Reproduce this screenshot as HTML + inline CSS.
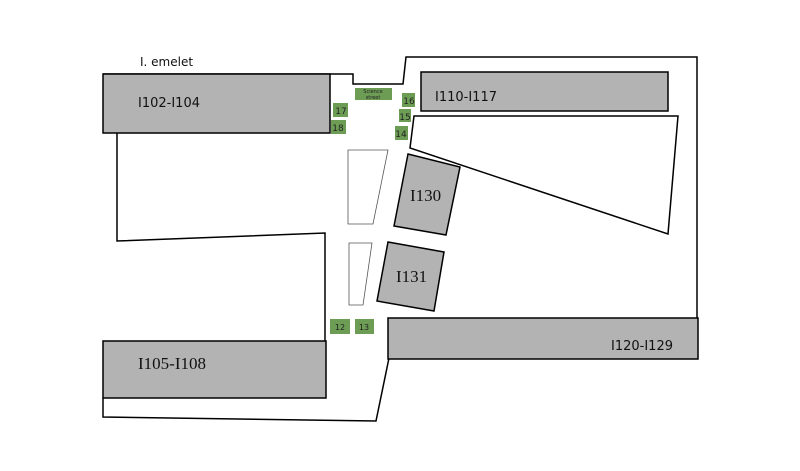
<!DOCTYPE html><html><head><style>body{margin:0;background:#fff}svg{display:block}</style></head><body>
<svg width="800" height="471" xmlns="http://www.w3.org/2000/svg" font-family="Liberation Serif, serif">
<g fill="none" stroke="#000" stroke-width="1.5">
<polyline points="103,74 353,74 353,84 403,84 406,57 697,57 697,320"/>
<polyline points="117,133 117,241 325,233 325,342"/>
<polyline points="103,398 103,417 376,421 389,358"/>
</g>
<rect x="103" y="74" width="227" height="59" fill="#b3b3b3" stroke="#000" stroke-width="1.5"/>
<rect x="421" y="72" width="247" height="39" fill="#b3b3b3" stroke="#000" stroke-width="1.5"/>
<rect x="103" y="341" width="223" height="57" fill="#b3b3b3" stroke="#000" stroke-width="1.5"/>
<rect x="388" y="318" width="310" height="41" fill="#b3b3b3" stroke="#000" stroke-width="1.5"/>
<polygon points="414,116 678,116 668,234 410,148" fill="#fff" stroke="#000" stroke-width="1.5"/>
<polygon points="408,154 460,167 446,235 394,226" fill="#b3b3b3" stroke="#000" stroke-width="1.5"/>
<polygon points="388,242 444,252 434,311 377,301" fill="#b3b3b3" stroke="#000" stroke-width="1.5"/>
<polygon points="348,150 388,150 373,224 348,224" fill="none" stroke="#555" stroke-width="0.8"/>
<polygon points="349,243 372,243 363,305 349,305" fill="none" stroke="#555" stroke-width="0.8"/>
<g fill="#6d9d55">
<rect x="355" y="88" width="37" height="12"/>
<rect x="333" y="103" width="15" height="14"/>
<rect x="331" y="120" width="15" height="14"/>
<rect x="402" y="93" width="13" height="14"/>
<rect x="399" y="109" width="12" height="13"/>
<rect x="395" y="126" width="13" height="14"/>
<rect x="330" y="319" width="20" height="15"/>
<rect x="355" y="319" width="19" height="15"/>
</g>
<g font-family="DejaVu Sans, sans-serif" fill="#222" text-anchor="middle">
<text x="373" y="93" font-size="5">Science</text><text x="373" y="99" font-size="5">street</text>
<text x="341" y="114" font-size="9">17</text><text x="338" y="131" font-size="9">18</text>
<text x="409" y="104" font-size="9">16</text><text x="405" y="120" font-size="9">15</text>
<text x="401" y="137" font-size="9">14</text>
<text x="340" y="330" font-size="8">12</text><text x="364" y="330" font-size="8">13</text>
</g>
<g font-family="DejaVu Sans, sans-serif" fill="#111" font-size="12">
<text x="140" y="66">I. emelet</text>
<text x="138" y="107" font-size="13">I102-I104</text>
<text x="435" y="101" font-size="13">I110-I117</text>
<text x="611" y="350" font-size="13">I120-I129</text>
</g>
<g fill="#111" font-size="17">
<text x="410" y="201">I130</text>
<text x="396" y="282">I131</text>
<text x="138" y="369">I105-I108</text>
</g>
</svg></body></html>
